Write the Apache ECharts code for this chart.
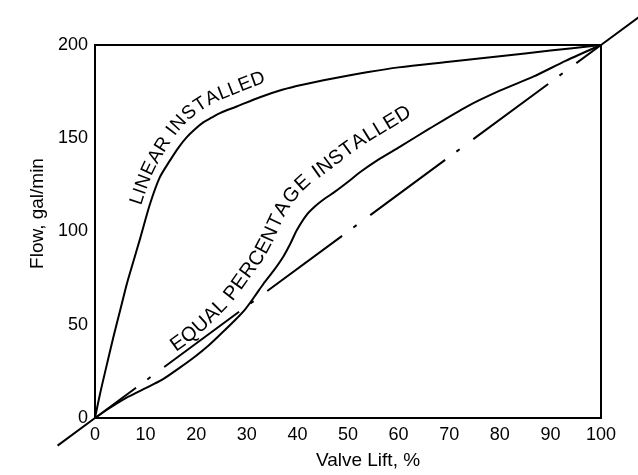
<!DOCTYPE html>
<html><head><meta charset="utf-8">
<script src="https://cdn.jsdelivr.net/npm/echarts@6.0.0/dist/echarts.min.js"></script>
<style>html,body{margin:0;padding:0;background:#fff}#c{width:638px;height:475px}</style>
</head><body><div id="c"></div>
<script>
// ---- data ----
const xTickValues = [0, 10, 20, 30, 40, 50, 60, 70, 80, 90, 100];
const yTickValues = [0, 50, 100, 150, 200];
const xAxisTitle = 'Valve Lift, %';
const yAxisTitle = 'Flow, gal/min';
const linearLabel = 'LINEAR INSTALLED';
const equalLabel = 'EQUAL PERCENTAGE INSTALLED';

const linearX = [0, 1, 2.2, 3.6, 5, 6.3, 7.7, 9, 10.9, 12.8, 14.8, 16.5, 18.1, 19.8, 21.4, 23, 24.7, 28, 32.6, 37, 41, 47, 54, 60, 70, 80, 90, 100];
const linearY = [0, 13, 27, 43, 58, 72, 85, 97, 115, 129, 138, 145, 150.5, 155, 158.5, 161, 163.5, 167, 172, 176, 178.7, 182, 185.5, 188, 191, 194, 197, 200];

const equalX = [0, 3, 6.6, 10, 13.2, 16.5, 19.8, 22.5, 25, 27.5, 29.6, 31.5, 33.3, 35.3, 37.2, 38.7, 39.9, 41.8, 43.5, 45.1, 47.5, 49.7, 52.5, 55.7, 60.3, 66, 73.5, 80, 86.6, 93, 100];
const equalY = [0, 5.5, 11.4, 16, 20.4, 26.5, 33, 39, 45.4, 52, 58, 65, 72, 79, 86.5, 94, 100.8, 108.8, 113.5, 117, 121.5, 126, 132, 138, 145.5, 155, 167, 175.5, 183, 191.5, 200];

const diagX = [0, 100];
const diagY = [0, 200];
const diagLowX = [-7.4, 0];
const diagLowY = [-14.8, 0];
const diagHighX = [100, 108];
const diagHighY = [200, 216];

// ---- chart ----
const FONT = '"Liberation Sans", Arial, Helvetica, sans-serif';
const zip = (xs, ys) => xs.map((x, i) => [x, ys[i]]);
const chart = echarts.init(document.getElementById('c'), null, { renderer: 'canvas' });

const lineBase = { type: 'line', showSymbol: false, symbol: 'none', silent: true };
chart.setOption({
  animation: false,
  backgroundColor: '#fff',
  grid: { left: 95, right: 37, top: 45, bottom: 57, show: true, borderColor: '#000', borderWidth: 2, outerBoundsMode: 'none', containLabel: false },
  xAxis: {
    type: 'value', min: xTickValues[0], max: xTickValues[xTickValues.length - 1], interval: xTickValues[1] - xTickValues[0],
    axisLine: { show: false }, axisTick: { show: false }, splitLine: { show: false },
    axisLabel: { color: '#000', fontSize: 18, fontFamily: FONT, margin: 8 },
    name: xAxisTitle, nameLocation: 'middle', nameGap: 33,
    nameTextStyle: { color: '#000', fontSize: 19, fontFamily: FONT, padding: [0, 0, 0, 40] }
  },
  yAxis: {
    type: 'value', min: yTickValues[0], max: yTickValues[yTickValues.length - 1], interval: yTickValues[1] - yTickValues[0],
    axisLine: { show: false }, axisTick: { show: false }, splitLine: { show: false },
    axisLabel: { color: '#000', fontSize: 18, fontFamily: FONT, margin: 7 },
    name: yAxisTitle, nameLocation: 'middle', nameGap: 48,
    nameTextStyle: { color: '#000', fontSize: 19, fontFamily: FONT, padding: [0, 0, 0, 36] }
  },
  series: [
    Object.assign({}, lineBase, { name: 'linear', data: zip(linearX, linearY), smooth: 0.3, lineStyle: { color: '#000', width: 2 } }),
    Object.assign({}, lineBase, { name: 'equal', data: zip(equalX, equalY), smooth: 0.25, lineStyle: { color: '#000', width: 2 } }),
    Object.assign({}, lineBase, { name: 'diag', data: zip(diagX, diagY), lineStyle: { color: '#000', width: 2, type: [93, 14, 4, 17], dashOffset: 42, cap: 'butt' } })
  ]
});

// extension of the diagonal outside the plot frame, positioned via the chart's own scales
const toPx = (xs, ys) => xs.map((x, i) => chart.convertToPixel({ gridIndex: 0 }, [x, ys[i]]));
const extLines = [
  { type: 'polyline', silent: true, z: 5, shape: { points: toPx(diagLowX, diagLowY) }, style: { stroke: '#000', lineWidth: 2, fill: null } },
  { type: 'polyline', silent: true, z: 5, shape: { points: toPx(diagHighX, diagHighY) }, style: { stroke: '#000', lineWidth: 2, fill: null } }
];

// ---- curved text labels along curves ----
const measureCtx = document.createElement('canvas').getContext('2d');
function labelAlong(xs, ys, text, s0, gapAt, fontSize, spacing) {
  const dense = [];
  for (let i = 0; i < xs.length - 1; i++) {
    const n = 30;
    for (let k = 0; k < n; k++) {
      const t = k / n;
      dense.push([xs[i] + (xs[i + 1] - xs[i]) * t, ys[i] + (ys[i + 1] - ys[i]) * t]);
    }
  }
  dense.push([xs[xs.length - 1], ys[ys.length - 1]]);
  const px = dense.map(d => chart.convertToPixel({ gridIndex: 0 }, d));
  const K = 6;
  let off = px.map((p, i) => {
    const a = px[Math.max(0, i - K)], b = px[Math.min(px.length - 1, i + K)];
    let tx = b[0] - a[0], ty = b[1] - a[1];
    const L = Math.hypot(tx, ty) || 1; tx /= L; ty /= L;
    const g = gapAt(dense[i][0]);
    return [p[0] + ty * g, p[1] - tx * g];
  });
  const W = 14;
  off = off.map((p, i) => {
    let sx = 0, sy = 0, c = 0;
    for (let j = Math.max(0, i - W); j <= Math.min(off.length - 1, i + W); j++) { sx += off[j][0]; sy += off[j][1]; c++; }
    return [sx / c, sy / c];
  });
  const cum = [0];
  for (let i = 1; i < off.length; i++) cum.push(cum[i - 1] + Math.hypot(off[i][0] - off[i - 1][0], off[i][1] - off[i - 1][1]));
  const at = s => {
    let i = 1;
    while (i < cum.length - 1 && cum[i] < s) i++;
    const t = (s - cum[i - 1]) / ((cum[i] - cum[i - 1]) || 1);
    return [off[i - 1][0] + (off[i][0] - off[i - 1][0]) * t, off[i - 1][1] + (off[i][1] - off[i - 1][1]) * t];
  };
  const font = fontSize + 'px ' + FONT;
  measureCtx.font = font;
  const els = [];
  let s = s0;
  for (const ch of text) {
    const w = measureCtx.measureText(ch).width + spacing;
    const mid = s + w / 2;
    const p = at(mid), a = at(mid - 6), b = at(mid + 6);
    const rot = Math.atan2(-(b[1] - a[1]), b[0] - a[0]);
    if (ch !== ' ') {
      els.push({ type: 'text', x: p[0], y: p[1], rotation: rot, silent: true, z: 10,
        style: { text: ch, font: font, fill: '#000', textAlign: 'center', textVerticalAlign: 'bottom', align: 'center', verticalAlign: 'bottom' } });
    }
    s += w;
  }
  return els;
}

const interp = stops => x => {
  if (x <= stops[0][0]) return stops[0][1];
  for (let i = 1; i < stops.length; i++) if (x <= stops[i][0]) {
    const t = (x - stops[i - 1][0]) / (stops[i][0] - stops[i - 1][0]);
    return stops[i - 1][1] + (stops[i][1] - stops[i - 1][1]) * t;
  }
  return stops[stops.length - 1][1];
};

const els = extLines
  .concat(labelAlong(linearX, linearY, linearLabel, 211, interp([[0, 4], [12, 4], [25, 8], [100, 8]]), 19, 0.3))
  .concat(labelAlong(equalX, equalY, equalLabel, 100, interp([[0, 12], [25, 10], [35, 10], [45, 16], [60, 16], [100, 16]]), 20, 0.6));
chart.setOption({ graphic: { elements: els } });
</script>
</body></html>
